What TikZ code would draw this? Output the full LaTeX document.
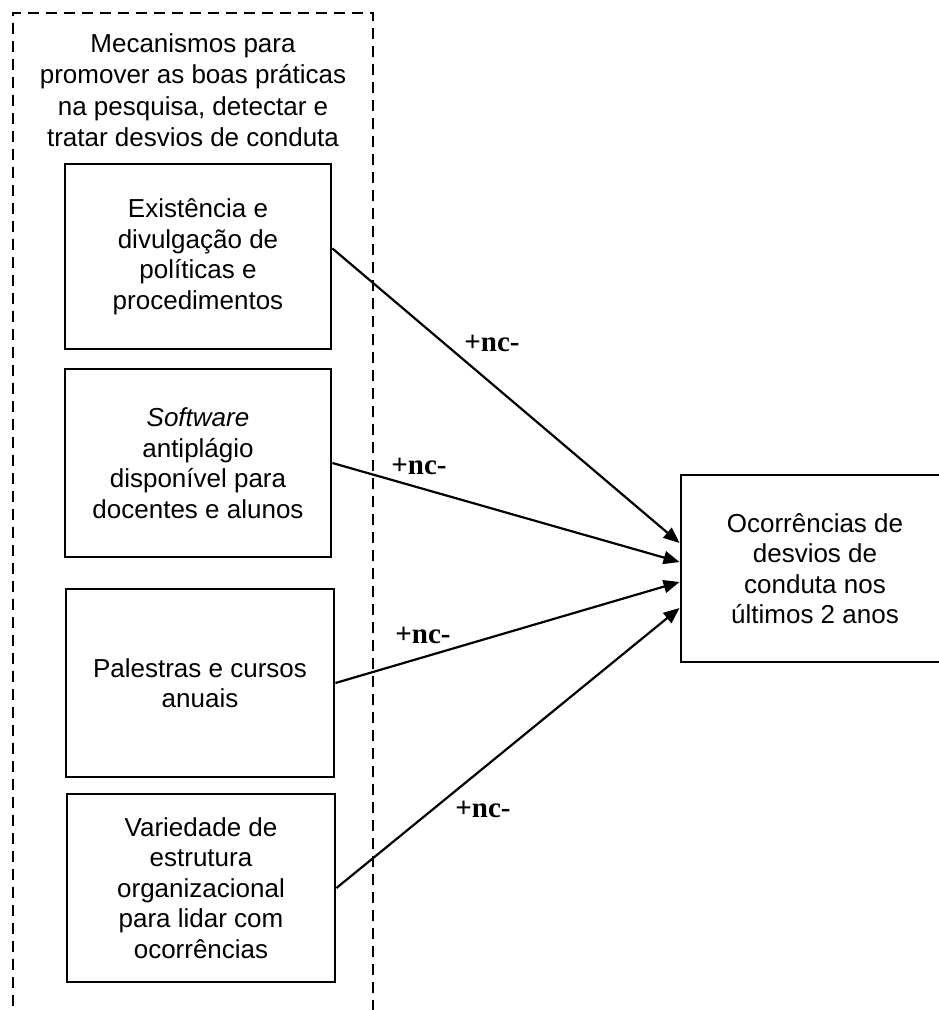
\documentclass[tikz,border=0pt]{standalone}
\usepackage{fontspec}
\setmainfont{Liberation Sans}
\newfontfamily\rotulofont{Liberation Serif}
\usetikzlibrary{positioning, arrows.meta}

\begin{document}
\begin{tikzpicture}[x=1pt, y=-1pt,
  caixa/.style={draw, line width=2.9pt, align=center, inner sep=0pt,
    minimum width=266pt, minimum height=187pt, font=\fontsize{26}{30.5}\selectfont},
  seta/.style={-{Triangle[length=16pt, width=13pt]}, line width=2.2pt},
  rotulo/.style={font=\rotulofont\bfseries\fontsize{29}{29}\selectfont, inner sep=0pt}]
\useasboundingbox (0,0) rectangle (938,1010);
\node[draw, dash pattern=on 11pt off 7pt, line width=2.2pt, minimum width=360pt, minimum height=998pt] (grupo) at (193,512) {};
\node[align=center, anchor=north, inner sep=0pt, font=\fontsize{26}{31.5}\selectfont] (titulo) at (193,33)
  {Mecanismos para\\promover as boas práticas\\na pesquisa, detectar e\\tratar desvios de conduta};
\node[caixa, minimum height=185pt] (b1) at (198,256.5) {Existência e\\divulgação de\\políticas e\\procedimentos};
\node[caixa, minimum height=188pt] (b2) at (198,463) {\textit{Software}\\antiplágio\\disponível para\\docentes e alunos};
\node[caixa, minimum width=268pt, minimum height=188pt] (b3) at (200,683) {Palestras e cursos\\anuais};
\node[caixa, minimum width=268pt, minimum height=188pt] (b4) at (201,888) {Variedade de\\estrutura\\organizacional\\para lidar com\\ocorrências};
\node[caixa, minimum width=268pt] (alvo) at (815,568.5) {Ocorrências de\\desvios de\\conduta nos\\últimos 2 anos};
\draw[seta] ([yshift=8pt]b1.east) -- ([yshift=25.5pt]alvo.west);
\draw[seta] (b2.east) -- ([yshift=6.5pt]alvo.west);
\draw[seta] (b3.east) -- ([yshift=-13.5pt]alvo.west);
\draw[seta] (b4.east) -- ([yshift=-39.5pt]alvo.west);
\node[rotulo] (r1) at (492,343) {+nc-};
\node[rotulo] (r2) at (419,466) {+nc-};
\node[rotulo] (r3) at (423,635) {+nc-};
\node[rotulo] (r4) at (483,809) {+nc-};
\end{tikzpicture}
\end{document}
